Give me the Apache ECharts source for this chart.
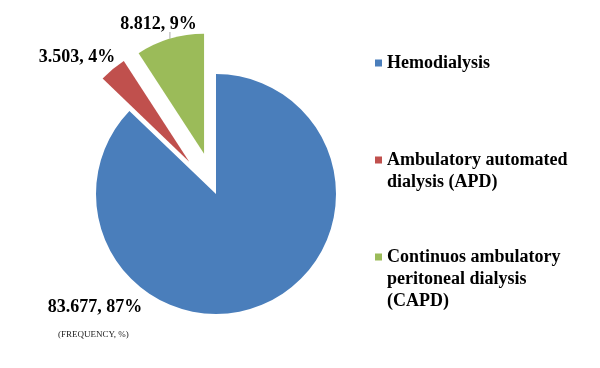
<!DOCTYPE html>
<html>
<head>
<meta charset="utf-8">
<script src="https://cdn.jsdelivr.net/npm/echarts@6/dist/echarts.min.js"></script>
<style>html,body{margin:0;padding:0;background:#fff}#c{width:600px;height:368px}</style>
</head>
<body>
<div id="c"></div>
<script>
const categories = ['Hemodialysis', 'Ambulatory automated dialysis (APD)', 'Continuos ambulatory peritoneal dialysis (CAPD)'];
const legendLines = [['Hemodialysis'], ['Ambulatory automated', 'dialysis (APD)'], ['Continuos ambulatory', 'peritoneal dialysis', '(CAPD)']];
const values = [83.677, 3.503, 8.812];
const exploded = [false, true, true];
const colors = ['#4a7ebb', '#c0504d', '#9bbb59'];

// label anchors: the un-exploded slice uses explicit layout, exploded slices use leader lengths
const labelPos = [[95, 307], [77, 57], [158.5, 24]];
const leaderLen = [[15, 15], [15.85, 20.6], [15.3, 2.05]];
const leaderShow = [false, false, true];
const legendTops = [52, 149, 246];
const LINE_H = 22;
const OFFSET = 42;
const serif = '"Liberation Serif", "Times New Roman", serif';

const chart = echarts.init(document.getElementById('c'), null, {renderer: 'canvas'});

function iconFor(n) {
  const h = LINE_H * n;
  // small square aligned with the first text line; invisible points set the box height
  return 'path://M0,0h0.001M0,7.5h7v7h-7zM0,' + h + 'h0.001';
}

const legends = categories.map((name, i) => ({
  orient: 'vertical', left: 375, top: legendTops[i], padding: 0,
  itemWidth: 7, itemHeight: LINE_H * legendLines[i].length,
  icon: iconFor(legendLines[i].length), itemStyle: { borderWidth: 0 },
  selectedMode: false, data: [name],
  formatter: () => legendLines[i].join('\n'),
  textStyle: { fontFamily: serif, fontSize: 18, fontWeight: 'bold', color: '#000', lineHeight: LINE_H }
}));

chart.setOption({
  animation: false, backgroundColor: '#fff', color: colors,
  title: { text: '(FREQUENCY, %)', left: 58, top: 330, padding: 0,
    textStyle: { fontFamily: serif, fontSize: 9, fontWeight: 'normal', color: '#222' } },
  legend: legends,
  series: [{
    type: 'pie', center: [216, 194], radius: 120, startAngle: 90, clockwise: true,
    selectedMode: 'multiple', selectedOffset: OFFSET, percentPrecision: 0,
    avoidLabelOverlap: false,
    emphasis: { disabled: true }, itemStyle: { borderWidth: 0 },
    label: { show: true, position: 'outside', fontFamily: serif, fontSize: 18, fontWeight: 'bold', color: '#000',
      formatter: p => p.value + ', ' + Math.round(p.percent) + '%' },
    labelLine: { show: false },
    labelLayout: p => {
      const i = p.dataIndex;
      const pos = labelPos[i];
      const out = { align: 'center', verticalAlign: 'middle' };
      if (!exploded[i]) { out.x = pos[0]; out.y = pos[1]; }
      const pts = p.labelLinePoints;
      if (leaderShow[i] && pts && pts.length > 1) {
        // points are in the un-exploded sector frame; shift is along the radial direction
        const a = pts[0], b = pts[1];
        const len = Math.hypot(b[0] - a[0], b[1] - a[1]) || 1;
        const sy = exploded[i] ? OFFSET * (b[1] - a[1]) / len : 0;
        out.labelLinePoints = [[a[0], a[1]], [a[0], pos[1] + 8 - sy]];
      }
      return out;
    },
    data: categories.map((name, i) => ({
      name: name, value: values[i], selected: exploded[i],
      labelLine: { show: leaderShow[i], length: leaderLen[i][0], length2: leaderLen[i][1], lineStyle: { color: '#aaa', width: 1 } }
    }))
  }]
});
</script>
</body>
</html>
